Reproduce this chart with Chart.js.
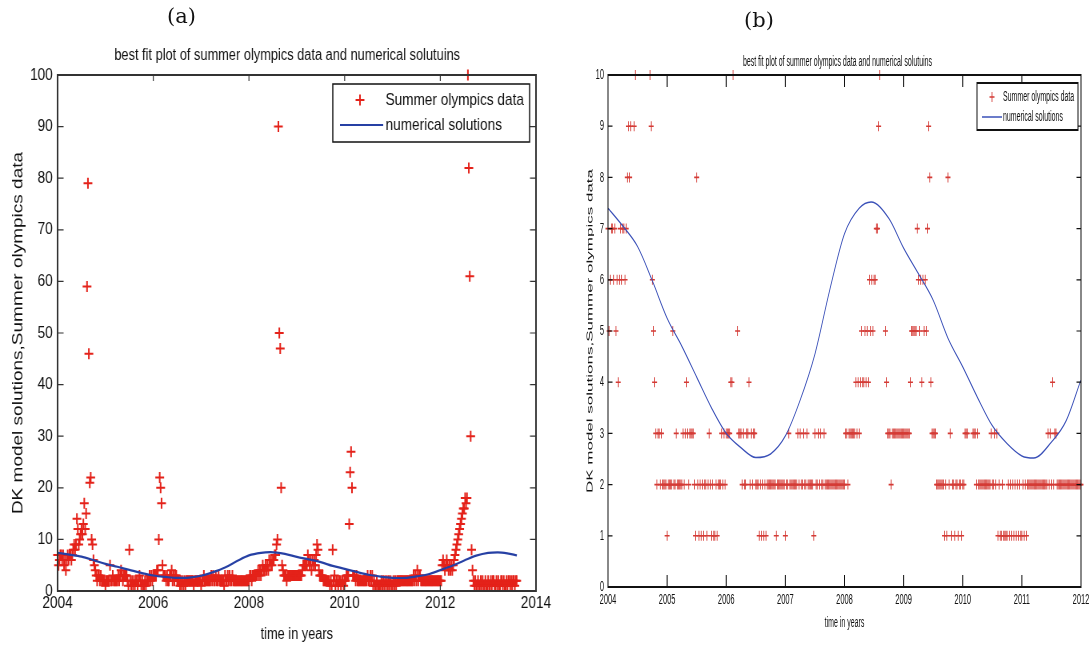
<!DOCTYPE html>
<html><head><meta charset="utf-8">
<script src="https://cdn.jsdelivr.net/npm/chart.js@4"></script>
<style>
html,body{margin:0;padding:0;background:#fff;width:1090px;height:647px;overflow:hidden;}
.panel{position:absolute;top:0;height:647px;transform-origin:0 0;}
#pa{left:0;width:705px;transform:scaleX(0.8);}
#pb{left:545px;width:1090px;transform:scaleX(0.5);}
.lab{position:absolute;font-family:'DejaVu Serif',serif;font-size:21px;color:#111;line-height:1;}
</style></head><body>
<div id="pa" class="panel"><canvas id="ca"></canvas></div>
<div id="pb" class="panel"><canvas id="cb"></canvas></div>
<div class="lab" style="left:167px;top:6px;">(a)</div>
<div class="lab" style="left:744px;top:10px;">(b)</div>
<script>
// ---- data: weekly values, one array per year (week i of a year at year + i/52) ----
const years = [2004,2005,2006,2007,2008,2009,2010,2011,2012,2013];
const y2004 = [7,5,6,7,7,6,7,5,6,4, 6,7,6,7,7,6,7,8,9,8, 9,14,12,9,10,11,12,11,13,17, 12,15,59,79,46,21,22,10,9,6, 5,4,3,2,3,3,2,3,2,2, 2,2];
const y2005 = [1,2,2,2,2,5,2,2,3,2, 2,2,2,2,3,2,3,4,3,2, 3,3,3,3,2,1,8,2,1,2, 1,2,1,2,2,1,2,3,2,1, 2,1,1,2,1,2,2,2,3,2, 3,2];
const y2006 = [3,3,3,3,4,4,10,22,20,17, 5,3,3,3,2,3,2,2,3,3, 4,2,3,2,3,3,2,2,2,1, 2,1,2,1,2,1,2,2,2,2, 2,2,2,2,1,2,2,2,2,2, 2,2];
const y2007 = [1,2,2,3,2,2,2,2,2,2, 2,3,2,3,2,2,3,2,2,3, 2,2,2,2,2,1,3,2,2,3, 2,3,2,2,3,2,2,2,2,2, 2,2,2,2,2,2,2,2,2,2, 2,2];
const y2008 = [2,3,3,2,3,3,3,3,3,3, 4,3,4,3,4,5,4,4,5,4, 5,4,6,5,6,5,6,6,7,7, 9,10,90,50,47,20,5,4,3,3, 3,2,3,3,3,3,3,3,3,3, 3,3];
const y2009 = [3,3,3,3,3,3,4,5,5,5, 5,5,7,6,5,6,4,6,5,6, 5,7,9,8,4,3,3,3,3,2, 2,2,2,2,2,2,1,2,1,8, 2,3,1,2,2,1,2,2,1,2, 2,1];
const y2010 = [2,2,3,3,3,13,23,27,20,3, 3,3,2,3,2,2,2,2,2,2, 2,2,2,2,2,3,2,2,3,2, 3,1,2,1,1,2,1,1,1,1, 2,1,2,1,2,1,2,1,2,1, 2,1];
const y2011 = [1,2,1,2,1,2,2,2,2,2, 2,2,2,2,2,2,2,2,2,2, 2,2,2,3,2,3,2,4,2,3, 3,2,2,2,2,2,2,2,2,2, 2,2,2,2,2,2,2,2,2,2, 2,2];
const y2012 = [2,2,5,6,5,4,5,6,5,4, 5,4,5,4,5,6,7,8,9,10, 11,12,13,14,15,16,16,18,17,18, 100,82,61,30,8,4,2,1,2,1, 1,2,1,1,2,1,2,1,1,2, 1,1];
const y2013 = [2,1,1,2,1,2,2,1,1,2, 1,2,1,1,2,2,1,2,1,1, 2,1,2,2,1,2,1,2,2,1, 2,2];
const weekly = [y2004,y2005,y2006,y2007,y2008,y2009,y2010,y2011,y2012,y2013];

// numerical solution curve
const lineT = [2004.0,2004.25,2004.5,2004.75,2005.0,2005.25,2005.5,2005.75,2006.0,2006.25,2006.5,2006.75,2007.0,2007.25,2007.5,2007.75,2008.0,2008.25,2008.45,2008.75,2009.0,2009.25,2009.5,2009.75,2010.0,2010.25,2010.5,2010.75,2011.0,2011.2,2011.5,2011.75,2012.0,2012.25,2012.5,2012.75,2013.0,2013.2,2013.4,2013.6];
const lineV = [7.40,7.05,6.65,5.98,5.25,4.70,4.10,3.50,3.00,2.72,2.53,2.60,2.95,3.65,4.55,5.80,6.90,7.40,7.52,7.20,6.62,6.12,5.60,4.86,4.30,3.70,3.15,2.80,2.56,2.52,2.83,3.25,4.05,4.90,5.90,6.85,7.40,7.50,7.30,6.90];

const xTicksA = [2004,2006,2008,2010,2012,2014];
const yTicksA = [0,10,20,30,40,50,60,70,80,90,100];
const xTicksB = [2004,2005,2006,2007,2008,2009,2010,2011,2012];
const yTicksB = [0,1,2,3,4,5,6,7,8,9,10];

const TITLE = 'best fit plot of summer olympics data and numerical solutuins';
const LAB_DATA = 'Summer olympics data';
const LAB_LINE = 'numerical solutions';
const XTITLE = 'time in years';
const YTITLE = 'DK model solutions,Summer olympics data';

const pts = [];
weekly.forEach((arr,k)=>arr.forEach((v,i)=>pts.push({x: years[k] + i/52, y: v})));
const ptsB = pts.filter(p=>p.x <= 2012.001);
const linePts = lineT.map((t,i)=>({x:t, y:lineV[i]}));

const FAM = "'Liberation Sans', Arial, sans-serif";

const framePlugin = {
  id:'frame',
  afterDatasetsDraw(chart, args, o){
    const {ctx, chartArea:a, scales:{x,y}} = chart;
    ctx.save();
    ctx.strokeStyle = o.color;
    ctx.lineWidth = o.twx;
    ctx.beginPath();
    x.ticks.forEach(t=>{const px=x.getPixelForValue(t.value);
      ctx.moveTo(px,a.bottom); ctx.lineTo(px,a.bottom-o.tx);
      ctx.moveTo(px,a.top); ctx.lineTo(px,a.top+o.tx);});
    ctx.stroke();
    ctx.lineWidth = o.twy;
    ctx.beginPath();
    y.ticks.forEach(t=>{const py=y.getPixelForValue(t.value);
      ctx.moveTo(a.left,py); ctx.lineTo(a.left+o.ty,py);
      ctx.moveTo(a.right,py); ctx.lineTo(a.right-o.ty,py);});
    ctx.stroke();
    ctx.lineWidth = o.bw;
    ctx.strokeRect(a.left,a.top,a.right-a.left,a.bottom-a.top);
    // title
    ctx.fillStyle = '#111';
    ctx.font = o.titleSize+'px '+FAM;
    ctx.textAlign='center'; ctx.textBaseline='middle';
    ctx.fillText(TITLE,(a.left+a.right)/2 + o.titleDX,o.titleY);
    // legend
    const L = o.leg;
    ctx.fillStyle='#fff';
    ctx.fillRect(L.x1,L.y1,L.x2-L.x1,L.y2-L.y1);
    ctx.strokeStyle='#111'; ctx.lineWidth=L.bw;
    ctx.strokeRect(L.x1,L.y1,L.x2-L.x1,L.y2-L.y1);
    const ds0 = chart.data.datasets[1], ds1 = chart.data.datasets[0];
    ctx.strokeStyle=ds0.pointBorderColor; ctx.lineWidth=ds0.pointBorderWidth;
    ctx.beginPath();
    ctx.moveTo(L.mark-L.r,L.r1); ctx.lineTo(L.mark+L.r,L.r1);
    ctx.moveTo(L.mark,L.r1-L.r); ctx.lineTo(L.mark,L.r1+L.r);
    ctx.stroke();
    ctx.strokeStyle=ds1.borderColor; ctx.lineWidth=ds1.borderWidth;
    ctx.beginPath(); ctx.moveTo(L.l1,L.r2); ctx.lineTo(L.l2,L.r2); ctx.stroke();
    ctx.fillStyle='#111'; ctx.textAlign='left';
    ctx.font = L.size+'px '+FAM;
    ctx.fillText(ds0.label,L.tx,L.r1);
    ctx.fillText(ds1.label,L.tx,L.r2);
    ctx.restore();
  }
};

function makeChart(id, cfg){
  return new Chart(document.getElementById(id), {
    type:'scatter',
    data:{datasets:[
      {label:LAB_LINE, type:'line', data:linePts, borderColor:cfg.lineColor, borderWidth:cfg.lineWidth,
       pointRadius:0, cubicInterpolationMode:'monotone', fill:false, showLine:true, order:0, clip:0},
      {label:LAB_DATA, data:cfg.pts, pointStyle:'cross', pointRadius:cfg.r, pointHoverRadius:cfg.r,
       pointBorderColor:cfg.markColor, pointBorderWidth:cfg.markWidth, borderColor:cfg.markColor,
       backgroundColor:cfg.markColor, showLine:false, order:1, clip:8}
    ]},
    options:{
      responsive:true, maintainAspectRatio:false, animation:false, events:[],
      layout:{padding:{left:0, top:75, right:cfg.padR, bottom:0}},
      plugins:{legend:{display:false}, tooltip:{enabled:false}, frame:cfg.frame},
      scales:{
        x:{type:'linear', min:cfg.xTicks[0], max:cfg.xTicks[cfg.xTicks.length-1],
           grid:{display:false, drawTicks:false}, border:{display:false},
           afterBuildTicks(s){s.ticks = cfg.xTicks.map(v=>({value:v}));},
           ticks:{padding:cfg.xtp, color:'#111', font:{family:FAM,size:cfg.tickSize}, callback:v=>String(v), maxRotation:0, autoSkip:false},
           title:{display:true, text:XTITLE, color:'#111', font:{family:FAM,size:cfg.xtSize}, padding:{top:0,bottom:cfg.xtPad}},
           afterFit(s){s.height = cfg.xH; s.paddingLeft = 0; s.paddingRight = 0;}},
        y:{type:'linear', min:cfg.yTicks[0], max:cfg.yTicks[cfg.yTicks.length-1],
           grid:{display:false, drawTicks:false}, border:{display:false},
           afterBuildTicks(s){s.ticks = cfg.yTicks.map(v=>({value:v}));},
           ticks:{padding:cfg.ytp, color:'#111', font:{family:FAM,size:cfg.tickSize}, callback:v=>String(v), autoSkip:false},
           title:{display:true, text:YTITLE, color:'#111', font:{family:FAM,size:cfg.ytSize}, padding:{top:cfg.ytPad,bottom:0}},
           afterFit(s){s.width = cfg.yW; s.paddingTop = 0; s.paddingBottom = 0;}}
      }
    },
    plugins:[framePlugin]
  });
}

makeChart('ca', {
  pts:pts, xTicks:xTicksA, yTicks:yTicksA,
  lineColor:'#2640a4', lineWidth:2.2, r:5.5, markColor:'#e4221a', markWidth:2,
  padR:35, xH:56, yW:72, tickSize:17, xtp:2, ytp:6, xtSize:16, xtPad:3, ytSize:19, ytPad:11,
  frame:{color:'#333', twx:1.2, twy:1.2, tx:6, ty:7.5, bw:2, titleSize:16, titleY:56, titleDX:-12,
    leg:{x1:416,x2:662,y1:84,y2:142,r1:100,r2:125,mark:450,r:5.5,l1:425,l2:479,tx:482,size:17,bw:1.5}}
});
makeChart('cb', {
  pts:ptsB, xTicks:xTicksB, yTicks:yTicksB,
  lineColor:'#3a50b8', lineWidth:1.6, r:5, markColor:'#d43a35', markWidth:1.6,
  padR:18, xH:60, yW:126, tickSize:15, xtp:4, ytp:8, xtSize:14, xtPad:15.6, ytSize:17, ytPad:80,
  frame:{color:'#111', twx:2, twy:1.2, tx:12, ty:9, bw:2, titleSize:14, titleY:62, titleDX:-14,
    leg:{x1:864,x2:1066,y1:83,y2:130,r1:97,r2:117,mark:894,r:5,l1:874,l2:914,tx:916,size:14,bw:2}}
});
</script>
</body></html>
